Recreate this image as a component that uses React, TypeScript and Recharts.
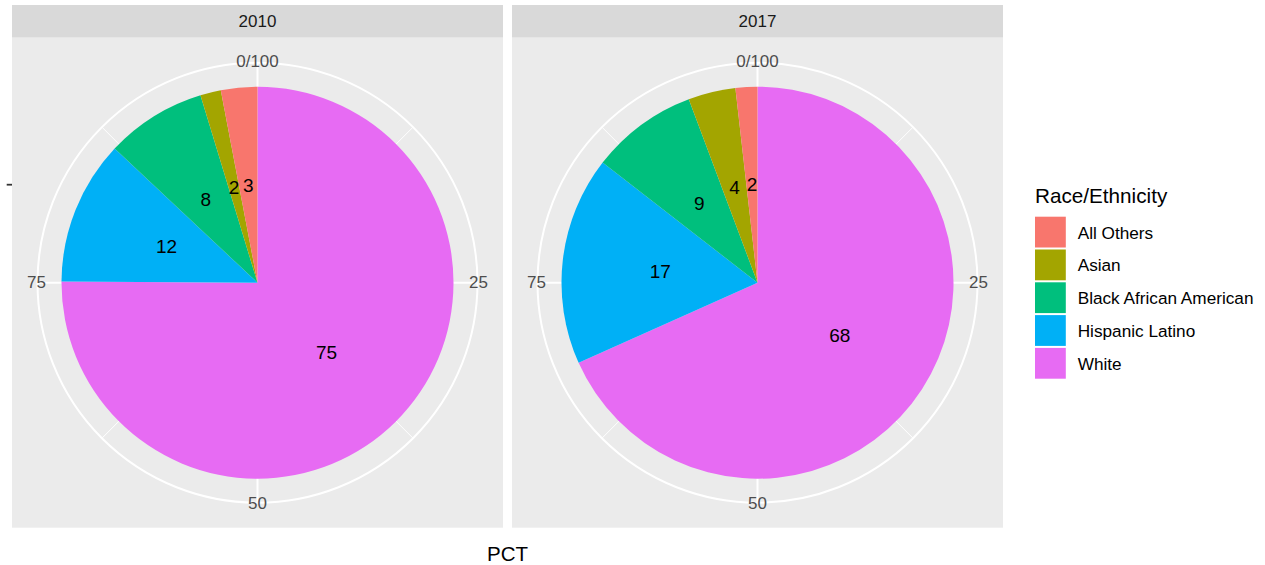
import React from 'react';
import { PieChart, Pie, Cell, Legend } from 'recharts';

// ---- data ----
const categories = ['All Others', 'Asian', 'Black African American', 'Hispanic Latino', 'White'];
const colors = ['#F8766D', '#A3A500', '#00BF7D', '#00B0F6', '#E76BF3'];
const years = ['2010', '2017'];
const pct2010 = [3.0, 1.7, 8.3, 11.9, 75.1];
const pct2017 = [1.8, 3.9, 8.8, 17.2, 68.3];
const thetaTicks = [0, 25, 50, 75];
const thetaTickLabels = ['0/100', '25', '50', '75'];
const thetaMinorTicks = [12.5, 37.5, 62.5, 87.5];
const legendTitle = 'Race/Ethnicity';
const xTitle = 'PCT';

const FONT = '"Liberation Sans", Arial, Helvetica, sans-serif';
const W = 1265;
const H = 565;

// ---- layout ----
const panelLefts = [12, 512];
const panelW = 491;
const stripTop = 5;
const stripH = 32.7;
const panelTop = 37.7;
const panelH = 490;
const cy = panelTop + panelH / 2;
const pieR = 196;
const gridR = 220;
const labelR = 221;

const RAD = Math.PI / 180;

const buildData = (vals: number[]) =>
  categories.map((c, i) => ({ name: c, value: vals[i], color: colors[i] })).reverse();

const datasets = [buildData(pct2010), buildData(pct2017)];

const renderLabel = (props: any) => {
  const { cx, cy: cyy, midAngle, outerRadius, value } = props;
  const r = outerRadius / 2;
  const x = cx + r * Math.cos(-midAngle * RAD);
  const y = cyy + r * Math.sin(-midAngle * RAD);
  return (
    <text
      x={x}
      y={y}
      textAnchor="middle"
      dominantBaseline="central"
      fontSize={19}
      fontFamily={FONT}
      fill="#000000"
    >
      {Math.round(value)}
    </text>
  );
};

const LegendContent = () => {
  const keyTop = 33.7;
  const pitch = 32.8;
  const keySize = 30.8;
  return (
    <svg width={235} height={200} style={{ display: 'block' }}>
      <text x={5} y={20} fontSize={20.7} fontFamily={FONT} fill="#000000">
        {legendTitle}
      </text>
      {categories.map((c, i) => (
        <g key={c}>
          <rect x={5} y={keyTop + i * pitch} width={keySize} height={keySize} fill={colors[i]} />
          <text
            x={47.7}
            y={keyTop + i * pitch + keySize / 2 + 0.5}
            dominantBaseline="central"
            fontSize={17.2}
            fontFamily={FONT}
            fill="#000000"
          >
            {c}
          </text>
        </g>
      ))}
    </svg>
  );
};

const Background = () => (
  <svg width={W} height={H} style={{ position: 'absolute', left: 0, top: 0 }}>
    <rect x={0} y={0} width={W} height={H} fill="#FFFFFF" />
    {panelLefts.map((left, p) => {
      const cx = left + panelW / 2;
      return (
        <g key={p}>
          <rect x={left} y={stripTop} width={panelW} height={stripH} fill="#D9D9D9" />
          <text
            x={cx}
            y={stripTop + stripH / 2}
            textAnchor="middle"
            dominantBaseline="central"
            fontSize={17}
            fontFamily={FONT}
            fill="#1A1A1A"
          >
            {years[p]}
          </text>
          <rect x={left} y={panelTop} width={panelW} height={panelH} fill="#EBEBEB" />
          {thetaMinorTicks.map((t) => (
            <line
              key={'m' + t}
              x1={cx}
              y1={cy}
              x2={cx + gridR * Math.sin((t / 100) * 2 * Math.PI)}
              y2={cy - gridR * Math.cos((t / 100) * 2 * Math.PI)}
              stroke="#FFFFFF"
              strokeWidth={1}
            />
          ))}
          {thetaTicks.map((t) => (
            <line
              key={'M' + t}
              x1={cx}
              y1={cy}
              x2={cx + gridR * Math.sin((t / 100) * 2 * Math.PI)}
              y2={cy - gridR * Math.cos((t / 100) * 2 * Math.PI)}
              stroke="#FFFFFF"
              strokeWidth={2}
            />
          ))}
          <circle cx={cx} cy={cy} r={gridR} fill="none" stroke="#FFFFFF" strokeWidth={2} />
          {thetaTicks.map((t, i) => (
            <text
              key={'l' + t}
              x={cx + labelR * Math.sin((t / 100) * 2 * Math.PI)}
              y={cy - labelR * Math.cos((t / 100) * 2 * Math.PI)}
              textAnchor="middle"
              dominantBaseline="central"
              fontSize={17}
              fontFamily={FONT}
              fill="#4D4D4D"
            >
              {thetaTickLabels[i]}
            </text>
          ))}
        </g>
      );
    })}
    <line x1={6.7} y1={cy - pieR / 2} x2={12} y2={cy - pieR / 2} stroke="#333333" strokeWidth={1.8} />
    <text x={(panelLefts[0] + panelLefts[1] + panelW) / 2} y={560.7} textAnchor="middle" fontSize={20.5} fontFamily={FONT} fill="#000000">
      {xTitle}
    </text>
  </svg>
);

export default function App() {
  return (
    <div style={{ position: 'absolute', left: 0, top: 0, width: W, height: H, fontFamily: FONT }}>
      <Background />
      <div style={{ position: 'absolute', left: 0, top: 0 }}>
        <PieChart width={W} height={H} margin={{ top: 0, right: 0, bottom: 0, left: 0 }}>
          {datasets.map((d, p) => (
            <Pie
              key={years[p]}
              data={d}
              dataKey="value"
              nameKey="name"
              cx={panelLefts[p] + panelW / 2}
              cy={cy}
              innerRadius={0}
              outerRadius={pieR}
              startAngle={90}
              endAngle={-270}
              stroke="none"
              label={renderLabel}
              labelLine={false}
              isAnimationActive={false}
            >
              {d.map((e) => (
                <Cell key={e.name} fill={e.color} stroke="none" />
              ))}
            </Pie>
          ))}
          <Legend
            layout="vertical"
            align="right"
            verticalAlign="top"
            content={() => <LegendContent />}
            wrapperStyle={{ left: 1030, top: 183, right: 'auto', bottom: 'auto', width: 235, height: 200, margin: 0, padding: 0 }}
          />
        </PieChart>
      </div>
    </div>
  );
}
